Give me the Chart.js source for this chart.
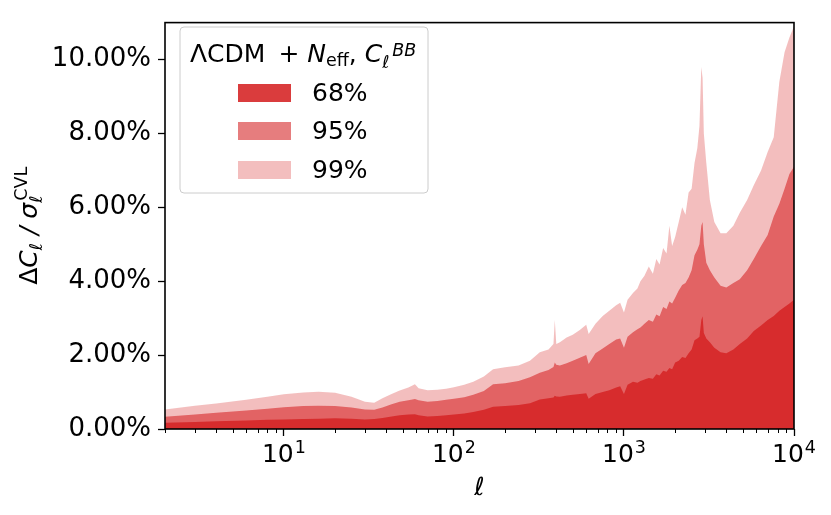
<!DOCTYPE html>
<html>
<head>
<meta charset="utf-8">
<script src="https://cdn.jsdelivr.net/npm/chart.js@4/dist/chart.umd.min.js"></script>
<style>
  html, body { margin: 0; padding: 0; background: #fff; }
  canvas { display: block; }
</style>
</head>
<body>
<canvas id="myChart" width="831" height="515"></canvas>
<script>
// multipole values
const ell = [
    2, 3, 4, 6, 8, 10, 13, 16, 20, 25,
    30, 34, 38, 43, 48, 54, 59, 62, 70, 80,
    90, 100, 115, 130, 150, 170, 200, 240, 280, 320,
    360, 385, 392, 400, 420, 460, 500, 550, 600, 620,
    680, 750, 820, 900, 950, 1000, 1050, 1130, 1200, 1250,
    1320, 1400, 1480, 1550, 1620, 1700, 1780, 1850, 1920, 2000,
    2100, 2200, 2300, 2400, 2500, 2600, 2700, 2780, 2850, 2900,
    2950, 3050, 3200, 3400, 3700, 4000, 4400, 4800, 5300, 5800,
    6400, 7000, 7600, 8200, 8800, 9400, 10000
];

// upper edge of each band, in percent
const p99 = [
    0.53, 0.63, 0.69, 0.79, 0.87, 0.94, 0.99, 1.01, 0.98, 0.87,
    0.74, 0.71, 0.83, 0.95, 1.04, 1.12, 1.21, 1.10, 1.05, 1.06,
    1.09, 1.13, 1.20, 1.28, 1.42, 1.62, 1.67, 1.72, 1.85, 2.08,
    2.15, 2.30, 2.95, 2.30, 2.35, 2.48, 2.55, 2.68, 2.82, 2.57,
    2.85, 3.06, 3.20, 3.35, 3.42, 3.15, 3.50, 3.68, 3.80, 4.00,
    4.15, 4.40, 4.20, 4.60, 4.45, 4.90, 4.75, 5.50, 4.95, 5.20,
    5.60, 6.00, 5.80, 6.40, 6.50, 7.20, 7.60, 8.20, 9.80, 9.50,
    8.00, 7.20, 6.20, 5.60, 5.30, 5.30, 5.50, 5.85, 6.20, 6.60,
    7.00, 7.50, 7.90, 9.40, 10.20, 10.60, 10.90
];
const p95 = [
    0.33, 0.39, 0.44, 0.50, 0.55, 0.59, 0.62, 0.63, 0.62, 0.58,
    0.53, 0.52, 0.58, 0.67, 0.74, 0.78, 0.81, 0.78, 0.74, 0.76,
    0.79, 0.82, 0.86, 0.93, 1.03, 1.21, 1.24, 1.30, 1.40, 1.52,
    1.60, 1.68, 1.80, 1.74, 1.72, 1.78, 1.85, 1.93, 2.00, 1.76,
    2.05, 2.18, 2.30, 2.42, 2.45, 2.20, 2.50, 2.62, 2.70, 2.75,
    2.85, 2.95, 2.90, 3.10, 3.05, 3.30, 3.25, 3.45, 3.40, 3.55,
    3.75, 3.90, 3.95, 4.10, 4.30, 4.70, 4.85, 5.00, 5.50, 5.60,
    5.00, 4.50, 4.30, 4.10, 3.88, 3.83, 3.95, 4.05, 4.30, 4.60,
    4.95, 5.25, 5.75, 6.10, 6.50, 6.90, 7.10
];
const p68 = [
    0.17, 0.19, 0.21, 0.23, 0.25, 0.26, 0.27, 0.28, 0.29, 0.28,
    0.26, 0.27, 0.30, 0.34, 0.37, 0.39, 0.40, 0.37, 0.34, 0.35,
    0.37, 0.39, 0.42, 0.46, 0.52, 0.60, 0.62, 0.65, 0.70, 0.80,
    0.83, 0.85, 0.90, 0.88, 0.87, 0.91, 0.93, 0.95, 0.97, 0.82,
    0.95, 1.00, 1.05, 1.12, 1.16, 0.95, 1.20, 1.28, 1.25, 1.30,
    1.34, 1.38, 1.36, 1.48, 1.45, 1.58, 1.55, 1.65, 1.62, 1.80,
    1.85, 1.95, 1.92, 2.05, 2.15, 2.40, 2.45, 2.50, 2.95, 3.05,
    2.60, 2.45, 2.35, 2.20, 2.08, 2.05, 2.15, 2.30, 2.45, 2.65,
    2.80, 2.95, 3.06, 3.20, 3.30, 3.40, 3.50
];

const bandLabels = ['68%', '95%', '99%'];
const bandAlpha = [0.9, 0.6, 0.3];
const xMajorTicks = [10, 100, 1000, 10000];
const xTickExps = ['1', '2', '3', '4'];
const yTicks = [0, 2, 4, 6, 8, 10];

const FAM = '"DejaVu Sans", sans-serif';
const red = (a) => 'rgba(214,39,40,' + a + ')';

function font(size, italic) {
    return (italic ? 'italic ' : '') + size + 'px ' + FAM;
}

// draws pieces of text one after another (for sub/superscripts)
function drawRun(ctx, parts, x, y, measureOnly) {
    let cx = x;
    let end = x;
    for (const p of parts) {
        ctx.font = font(p.size, p.it);
        cx += p.dx || 0;
        const w = ctx.measureText(p.t).width;
        if (!measureOnly) ctx.fillText(p.t, cx, y + (p.dy || 0));
        end = Math.max(end, cx + w);
        if (!p.stay) cx += w;
    }
    return end - x;
}

function toPoints(values) {
    return ell.map((l, i) => ({ x: l, y: values[i] }));
}

const extras = {
    id: 'extras',
    afterDraw(chart) {
        const ctx = chart.ctx;
        const area = chart.chartArea;
        const xs = chart.scales.x;
        ctx.save();
        ctx.fillStyle = '#000';
        ctx.strokeStyle = '#000';

        // minor ticks on the log axis
        ctx.lineWidth = 1;
        for (let d = 1; d < 10000; d *= 10) {
            for (let m = 2; m <= 9; m++) {
                const v = m * d;
                if (v < 2 || v > 10000) continue;
                const px = Math.round(xs.getPixelForValue(v)) + 0.5;
                ctx.beginPath();
                ctx.moveTo(px, area.bottom);
                ctx.lineTo(px, area.bottom + 4);
                ctx.stroke();
            }
        }

        // frame
        ctx.lineWidth = 1.6;
        ctx.strokeRect(area.left, area.top, area.right - area.left, area.bottom - area.top);

        // x tick labels 10^n
        ctx.textBaseline = 'alphabetic';
        ctx.textAlign = 'left';
        xMajorTicks.forEach((v, i) => {
            const px = xs.getPixelForValue(v);
            ctx.font = font(25);
            const w10 = ctx.measureText('10').width;
            ctx.font = font(17.5);
            const ws = ctx.measureText(xTickExps[i]).width;
            const x0 = px - (w10 + 1 + ws) / 2;
            ctx.font = font(25);
            ctx.fillText('10', x0, 462);
            ctx.font = font(17.5);
            ctx.fillText(xTickExps[i], x0 + w10 + 1, 453);
        });

        // x axis title
        ctx.font = font(25, true);
        ctx.textAlign = 'center';
        ctx.fillText('ℓ', (area.left + area.right) / 2, 495);
        ctx.textAlign = 'left';

        // y axis title
        const yParts = [
            { t: 'Δ', size: 25 },
            { t: 'C', size: 25, it: true },
            { t: 'ℓ', size: 17.5, it: true, dy: 5 },
            { t: ' / ', size: 25, it: true },
            { t: 'σ', size: 25, it: true },
            { t: 'ℓ', size: 17.5, it: true, dy: 5, stay: true },
            { t: 'CVL', size: 17.5, dy: -10, dx: 2 }
        ];
        ctx.save();
        ctx.translate(37, (area.top + area.bottom) / 2);
        ctx.rotate(-Math.PI / 2);
        const yw = drawRun(ctx, yParts, 0, 0, true);
        drawRun(ctx, yParts, -yw / 2, 0);
        ctx.restore();

        // legend box
        const bx = 180, by = 27, bw = 248, bh = 166, r = 4;
        ctx.beginPath();
        ctx.moveTo(bx + r, by);
        ctx.lineTo(bx + bw - r, by);
        ctx.arcTo(bx + bw, by, bx + bw, by + r, r);
        ctx.lineTo(bx + bw, by + bh - r);
        ctx.arcTo(bx + bw, by + bh, bx + bw - r, by + bh, r);
        ctx.lineTo(bx + r, by + bh);
        ctx.arcTo(bx, by + bh, bx, by + bh - r, r);
        ctx.lineTo(bx, by + r);
        ctx.arcTo(bx, by, bx + r, by, r);
        ctx.closePath();
        ctx.fillStyle = 'rgba(255,255,255,0.8)';
        ctx.fill();
        ctx.strokeStyle = '#cccccc';
        ctx.lineWidth = 1;
        ctx.stroke();

        ctx.fillStyle = '#000';
        drawRun(ctx, [
            { t: 'ΛCDM', size: 25 },
            { t: '+', size: 25, dx: 13 },
            { t: 'N', size: 25, it: true, dx: 8 },
            { t: 'eff', size: 17.5, dy: 4 },
            { t: ', ', size: 25 },
            { t: 'C', size: 25, it: true },
            { t: 'ℓ', size: 17.5, it: true, dy: 6, stay: true },
            { t: 'BB', size: 17.5, it: true, dy: -6, dx: 10 }
        ], 190, 62);

        const rows = [93, 131, 170];
        ctx.textBaseline = 'middle';
        ctx.font = font(25);
        bandLabels.forEach((lab, i) => {
            ctx.fillStyle = red(bandAlpha[i]);
            ctx.fillRect(238, rows[i] - 9, 53, 18);
            ctx.fillStyle = '#000';
            ctx.fillText(lab, 312, rows[i] + 1);
        });
        ctx.restore();
    }
};

const ctx = document.getElementById('myChart').getContext('2d');

const myChart = new Chart(ctx, {
    type: 'line',
    data: {
        datasets: [
            { label: bandLabels[0], data: toPoints(p68), backgroundColor: red(bandAlpha[0]), fill: 'origin' },
            { label: bandLabels[1], data: toPoints(p95), backgroundColor: red(bandAlpha[1]), fill: 'origin' },
            { label: bandLabels[2], data: toPoints(p99), backgroundColor: red(bandAlpha[2]), fill: 'origin' }
        ]
    },
    options: {
        responsive: false,
        animation: false,
        layout: { padding: { left: 0, top: 14, right: 37, bottom: 0 } },
        elements: {
            line: { borderWidth: 0, tension: 0 },
            point: { radius: 0 }
        },
        plugins: {
            legend: { display: false },
            tooltip: { enabled: false }
        },
        scales: {
            x: {
                type: 'logarithmic',
                min: 2,
                max: 10000,
                afterBuildTicks: (scale) => {
                    scale.ticks = xMajorTicks.map(v => ({ value: v, major: true }));
                },
                afterFit: (scale) => { scale.height = 86; },
                ticks: { display: false },
                grid: { drawOnChartArea: false, drawTicks: true, tickLength: 7, tickWidth: 1.3, tickColor: '#000' },
                border: { display: false }
            },
            y: {
                min: 0,
                max: 11,
                afterBuildTicks: (scale) => {
                    scale.ticks = yTicks.map(v => ({ value: v }));
                },
                afterFit: (scale) => { scale.width = 165; },
                ticks: {
                    color: '#000',
                    padding: 7,
                    font: { family: FAM, size: 26 },
                    callback: (v) => Number(v).toFixed(2) + '%'
                },
                grid: { drawOnChartArea: false, drawTicks: true, tickLength: 7, tickWidth: 1.3, tickColor: '#000' },
                border: { display: false }
            }
        }
    },
    plugins: [extras]
});
</script>
</body>
</html>
